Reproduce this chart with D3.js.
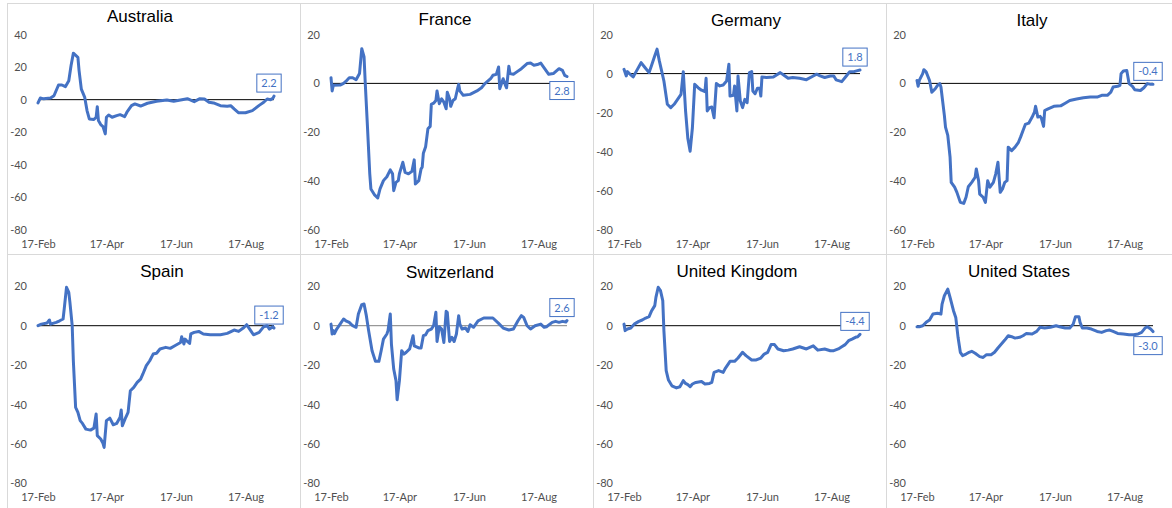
<!DOCTYPE html>
<html><head><meta charset="utf-8">
<script src="https://cdn.jsdelivr.net/npm/d3@7"></script>
<style>
body{margin:0;background:#fff;}
svg{display:block;}
</style>
</head><body>
<svg id="chart" width="1172" height="508"></svg>
<script>
// ---------- DATA ----------
const countries = ["Australia","France","Germany","Italy","Spain","Switzerland","United Kingdom","United States"];
const yDomains = [[-80,40],[-60,20],[-80,20],[-60,20],[-80,20],[-80,20],[-80,20],[-80,20]];
const xTickLabels = ["17-Feb","17-Apr","17-Jun","17-Aug"];
const startDate = "2020-02-17";
const lastDay = 207;
// [days since 17-Feb, value]
const australia = [[0,-2],[2,1],[5,0.5],[11,1],[14,2.4],[18,9],[21,9],[24,8],[27,11.6],[29,21],[31,28.5],[35,26],[36,18],[38,6.5],[41,1.4],[43,-6.7],[45,-11.8],[49,-12.2],[51,-10.8],[52,-4.3],[53,-12.8],[55,-15.3],[57,-16.5],[59,-21],[60,-10.8],[62,-9.4],[65,-10.8],[69,-9.8],[72,-9.2],[76,-10.4],[78,-7.7],[82,-3.7],[85,-2.6],[90,-3.9],[96,-2.2],[104,-1],[113,-0.2],[119,-1],[125,-0.2],[131,0.6],[137,-1.2],[142,0.6],[146,0.4],[150,-1.6],[154,-2],[160,-3.7],[166,-4],[169,-3.7],[172,-5.7],[176,-8.1],[182,-8],[188,-6.7],[194,-3.5],[198,-1.6],[201,0.4],[204,0],[206,0.8],[207,2.2]];
const france = [[0,2.3],[1,-3.1],[2,-0.8],[8,-0.7],[11,0],[13,0.8],[16,2.3],[19,2.3],[22,1.5],[25,4],[27,14.2],[29,10.8],[30,0.5],[32,-17.9],[34,-37],[35,-43.2],[38,-45.5],[41,-46.9],[43,-43.2],[46,-39.8],[49,-38.2],[52,-35.4],[54,-37],[55,-43.9],[57,-40.5],[59,-39.8],[60,-37],[63,-32.3],[65,-36.4],[68,-37],[71,-36],[73,-31.3],[74,-41.2],[77,-39.8],[79,-35],[80,-34.3],[81,-28.6],[83,-25.9],[85,-18.6],[87,-17.6],[88,-8.6],[90,-8.1],[92,-7],[93,-3.1],[95,-8.3],[97,-6.3],[99,-7.7],[101,-10.4],[102,-3.6],[104,-6.3],[105,-9.4],[107,-7],[109,-6.3],[111,-2.2],[112,-0.4],[113,-3.1],[116,-4.9],[122,-4.5],[128,-3.1],[132,-1.8],[135,-0.1],[140,1.9],[142,3.3],[145,3.7],[147,6.7],[148,-2.2],[151,1.9],[153,-0.8],[154,-1.8],[156,7],[157,4],[160,3.7],[163,4.7],[167,6],[172,8.1],[175,8.3],[178,7.4],[181,7.7],[184,8.3],[186,7],[191,3.7],[195,4],[200,6],[203,5.3],[205,3.3],[207,2.8]];
const germany = [[0,2.2],[2,-1.2],[3,1],[6,-0.7],[8,-1.7],[11,1.4],[15,5.6],[18,3.4],[22,0.5],[24,3.9],[27,9.1],[29,12.5],[31,6.5],[33,1.4],[35,-3.8],[38,-15.7],[41,-17.4],[44,-15.7],[47,-13.2],[50,-10.6],[52,1],[54,-19.1],[56,-33.2],[58,-39.7],[60,-27.7],[62,-5.5],[65,-7.2],[68,-8.5],[71,-9.2],[72,-2.4],[73,-19.1],[75,-17.4],[77,-17.1],[79,-22.6],[81,-5.1],[84,-6.3],[87,-5.8],[90,-3.8],[92,4.8],[93,-11.5],[96,-11.1],[97,-6.3],[99,-19.1],[100,-1.2],[102,-14],[104,-17.4],[106,-13.2],[108,-14.9],[110,0.5],[112,1],[113,-8.9],[115,-10.3],[117,-7.5],[119,-7.5],[120,-11.5],[121,-1.7],[125,-2],[131,-1.7],[137,0.5],[140,-0.7],[144,-2.4],[148,-2],[154,-2.4],[160,-3.1],[166,-1.2],[169,-0.3],[172,-1.2],[176,-2],[181,-1.2],[184,-1.2],[186,-3.2],[191,-4.1],[195,-1.2],[198,1],[201,0.9],[204,1.4],[207,1.8]];
const italy = [[0,1.2],[1,-1.2],[2,1.2],[5,4],[6,5.6],[8,4.7],[11,1.2],[13,-3.6],[16,-2.2],[18,-0.8],[20,-0.1],[21,-1.5],[24,-13.1],[25,-17.9],[27,-21.3],[29,-30.2],[30,-40.5],[33,-42.5],[35,-44.6],[38,-48.7],[41,-49.1],[43,-46.6],[45,-42.3],[48,-40.5],[51,-38.4],[52,-35],[54,-39.8],[55,-45.3],[58,-46.6],[60,-48.7],[62,-39.8],[64,-42.5],[67,-40.5],[69,-37.1],[71,-32.3],[73,-44.6],[75,-43.2],[77,-40.5],[79,-39.8],[80,-26.1],[83,-27.5],[86,-26.1],[89,-24.1],[91,-21.8],[93,-19.3],[95,-16.8],[98,-16.3],[101,-13.8],[103,-11.8],[104,-9.4],[106,-13.8],[108,-13.5],[109,-14.1],[111,-17.6],[112,-11.1],[115,-10.4],[120,-9.4],[126,-9.2],[130,-8.1],[134,-7],[140,-6.4],[146,-5.9],[152,-5.6],[158,-5.6],[162,-4.9],[167,-4.9],[170,-3.6],[172,-1.5],[176,-1.2],[178,-0.8],[179,4],[181,5.1],[184,5.3],[186,-0.1],[189,-1.2],[191,-2.6],[196,-2.9],[199,-1.8],[202,-0.1],[205,-0.4],[207,-0.4]];
const spain = [[0,0],[3,0.8],[8,1.4],[10,2.9],[11,0.8],[13,1.2],[16,1.7],[19,2.5],[22,3.4],[23,8.5],[25,19.5],[27,16.9],[28,11.8],[30,0],[31,-17.8],[33,-41.5],[35,-44],[37,-48.2],[39,-49.6],[42,-52.5],[46,-53],[49,-52],[51,-44.8],[52,-55.8],[55,-57.5],[57,-59.7],[58,-61.8],[60,-48.2],[63,-46.9],[66,-50.3],[69,-49.6],[72,-46.5],[73,-42.8],[74,-50.8],[77,-46.5],[79,-44],[81,-33],[84,-31.3],[87,-28.8],[90,-27.1],[92,-24.5],[95,-20.3],[98,-17.8],[101,-14.4],[104,-14],[107,-11.8],[112,-11],[116,-11.5],[120,-10.2],[125,-8.5],[126,-5.6],[128,-9.3],[129,-6.8],[131,-8],[133,-9],[134,-4.2],[137,-3.4],[141,-2.9],[145,-4.2],[151,-4.6],[160,-4.6],[166,-3.9],[172,-2.2],[176,-2.9],[180,-1.2],[183,0.5],[187,-2.9],[189,-4.6],[194,-3.4],[198,-0.5],[201,0],[203,-1.7],[206,-0.5],[207,-1.2]];
const switzerland = [[0,0.8],[1,-4.2],[2,-2.5],[3,-4],[5,-1.7],[8,0.8],[11,3.4],[13,2.5],[16,1.7],[19,0],[22,-0.8],[24,5.9],[27,10.7],[29,11],[31,5.1],[33,-2.5],[36,-12.7],[39,-18.1],[42,-18.1],[44,-12.7],[46,-6.8],[49,-4.2],[50,-2.5],[52,5.9],[53,-9.3],[55,-22],[57,-27.9],[58,-37.6],[60,-27.9],[62,-12.7],[64,-14.4],[66,-13.5],[69,-11.8],[72,-5.1],[73,-10.2],[77,-11.3],[79,-11.3],[81,-5.1],[83,-4.6],[85,-2.5],[88,-1.7],[90,0],[92,6.8],[93,-8],[95,-0.5],[97,-1.7],[99,-8.5],[101,7.3],[102,6.8],[104,-8],[106,-5.9],[108,-8],[110,-4.2],[112,5.1],[113,0.8],[115,-1.7],[118,-1.2],[120,-2.9],[122,0.5],[125,-0.8],[129,2.5],[134,3.9],[140,3.9],[142,3.9],[147,1.2],[151,-1.2],[156,-2.2],[160,-1.7],[164,2.5],[167,5.1],[169,4.2],[172,0],[175,-1.7],[179,0],[184,0.8],[187,-0.8],[189,-0.5],[194,1.7],[197,2.2],[200,1.7],[203,2.2],[206,1.9],[207,2.6]];
const unitedKingdom = [[0,0.8],[1,-2.5],[3,-1.7],[6,-1.2],[9,0.8],[13,2.2],[16,2.9],[19,3.9],[22,4.6],[24,7.3],[27,10.2],[28,14.4],[30,19.5],[32,17.8],[34,12.7],[35,-2.5],[37,-22.8],[39,-27.6],[42,-30.5],[46,-31.6],[49,-31],[52,-27.9],[54,-29.3],[56,-29.9],[58,-31],[60,-29.6],[63,-28.8],[68,-28.3],[71,-29.6],[75,-29.3],[77,-28.8],[79,-23.7],[83,-22.8],[87,-23.7],[89,-21.5],[93,-18.1],[97,-18.1],[100,-16.4],[104,-13.5],[107,-15.2],[112,-17.4],[116,-17.4],[120,-16.4],[123,-14.4],[126,-13.5],[129,-9.6],[132,-9.6],[135,-11.8],[140,-12.7],[144,-12.4],[148,-11.8],[154,-10.7],[160,-11.8],[166,-10.2],[170,-12.4],[176,-11.8],[181,-12.7],[184,-12.7],[188,-11.8],[191,-10.7],[194,-9.6],[197,-7.6],[200,-6.8],[203,-5.9],[205,-5.6],[207,-4.4]];
const unitedStates = [[0,-0.5],[2,-0.5],[5,0],[8,1.7],[11,2.9],[14,5.9],[18,6.3],[21,5.9],[22,11],[24,15.2],[27,18.6],[29,14.4],[32,7.6],[34,4.2],[36,-5.9],[38,-13.5],[40,-15.2],[43,-14.4],[45,-13.7],[48,-13],[51,-14],[55,-15.7],[58,-16.1],[61,-14.7],[65,-14.7],[68,-13.5],[71,-11.3],[74,-9.3],[77,-7.3],[80,-5.1],[83,-5.6],[86,-6.3],[90,-5.9],[93,-5.1],[96,-3.9],[101,-4.2],[105,-2.9],[108,-0.8],[112,-1.2],[117,-0.8],[122,0],[125,-0.5],[130,-1.2],[134,-1.2],[137,0.8],[139,4.6],[142,4.6],[143,1.7],[145,-1.2],[149,-1.2],[153,-1.7],[158,-2.9],[162,-3.4],[166,-2.5],[169,-2.2],[172,-2.9],[176,-3.9],[181,-4.2],[186,-4.6],[190,-4.6],[194,-4.2],[197,-3.4],[200,-1.2],[202,-0.5],[205,-1.7],[207,-3.0]];
const seriesList = [australia, france, germany, italy, spain, switzerland, unitedKingdom, unitedStates];

// ---------- LAYOUT / STYLE ----------
const W = 1172, H = 508, panelW = 293;
const rowTop = [0, 254];
const plotX = [38, 274];
const plotY = [[34.5, 230], [32.3, 229.3]];
const titleX = [140, 152, 160, 153, 162, 157, 151, 140];
const titleY = [22, 25, 25.5, 25.5, 23, 24, 23, 23];
const labelPos = ["above","below","above","above","above","above","above","below"];
const zeroColor = ["#000","#000","#000","#000","#000","#808080","#000","#000"];
const blue = "#4472C4";
const tickFont = "Lato, 'Open Sans', sans-serif";
const titleFont = "'Liberation Sans', Arial, sans-serif";
const hyphenFmt = v => String(v);          // plain hyphen-minus like the reference
const labelFmt = v => v.toFixed(1);

const svg = d3.select("#chart");
svg.append("rect").attr("width", W).attr("height", H).attr("fill", "#fff");

const parse = d3.timeParse("%Y-%m-%d");
const t0 = parse(startDate);
const dayToDate = d => d3.timeDay.offset(t0, d);
const fmtTick = d3.timeFormat("%d-%b");
const tickDates = xTickLabels.map(l => d3.timeParse("%d-%b-%Y")(l + "-2020"));

countries.forEach((name, i) => {
  const row = Math.floor(i / 4), col = i % 4;
  const g = svg.append("g").attr("transform", `translate(${col * panelW},${rowTop[row]})`);

  // panel border
  g.append("rect")
    .attr("x", 7.5).attr("y", row === 0 ? 3.5 : 0.5)
    .attr("width", panelW).attr("height", row === 0 ? 251 : 270)
    .attr("fill", "none").attr("stroke", "#d9d9d9").attr("stroke-width", 1);

  const x = d3.scaleTime().domain([t0, dayToDate(lastDay)]).range(plotX);
  const y = d3.scaleLinear().domain(yDomains[i]).range([plotY[row][1], plotY[row][0]]);

  // y axis labels
  const yAxis = d3.axisLeft(y).tickValues(d3.range(yDomains[i][0], yDomains[i][1] + 1, 20)).tickSize(0).tickPadding(0).tickFormat(hyphenFmt);
  const ya = g.append("g").attr("transform", `translate(27,0)`).call(yAxis);
  ya.select(".domain").remove();
  ya.selectAll("text").attr("font-family", tickFont).attr("font-size", 11).attr("fill", "#505050");

  // x axis labels
  const xAxis = d3.axisBottom(x).tickValues(tickDates).tickSize(0).tickPadding(0).tickFormat(fmtTick);
  const xa = g.append("g").attr("transform", `translate(0,${plotY[row][1] + 10})`).call(xAxis);
  xa.select(".domain").remove();
  xa.selectAll("text").attr("font-family", tickFont).attr("font-size", 11).attr("fill", "#505050");

  // zero line
  g.append("line")
    .attr("x1", plotX[0]).attr("x2", plotX[1])
    .attr("y1", y(0)).attr("y2", y(0))
    .attr("stroke", zeroColor[i]).attr("stroke-width", 1);

  // series line
  const data = seriesList[i];
  const line = d3.line().x(d => x(dayToDate(d[0]))).y(d => y(d[1]));
  g.append("path").datum(data).attr("d", line)
    .attr("fill", "none").attr("stroke", blue).attr("stroke-width", 3)
    .attr("stroke-linejoin", "round").attr("stroke-linecap", "round");

  // title
  g.append("text").attr("x", titleX[i]).attr("y", titleY[i])
    .attr("text-anchor", "middle").attr("font-family", titleFont).attr("font-size", 17)
    .attr("fill", "#000").text(name);

  // data label of last value
  const last = data[data.length - 1];
  const px = x(dayToDate(last[0])), py = y(last[1]);
  const txt = labelFmt(last[1]);
  const lg = g.append("g");
  const tEl = lg.append("text").attr("font-family", tickFont).attr("font-size", 11)
    .attr("fill", blue).attr("text-anchor", "middle").text(txt);
  const tw = tEl.node().getComputedTextLength();
  const bw = tw + 9, bh = 18;
  const cx = px - 5;
  const by = labelPos[i] === "above" ? py - 4 - bh : py + 5;
  lg.insert("rect", "text").attr("x", cx - bw / 2).attr("y", by).attr("width", bw).attr("height", bh)
    .attr("fill", "#fff").attr("stroke", blue).attr("stroke-width", 1);
  tEl.attr("x", cx).attr("y", by + bh / 2 + 4);
});
</script>
</body></html>
